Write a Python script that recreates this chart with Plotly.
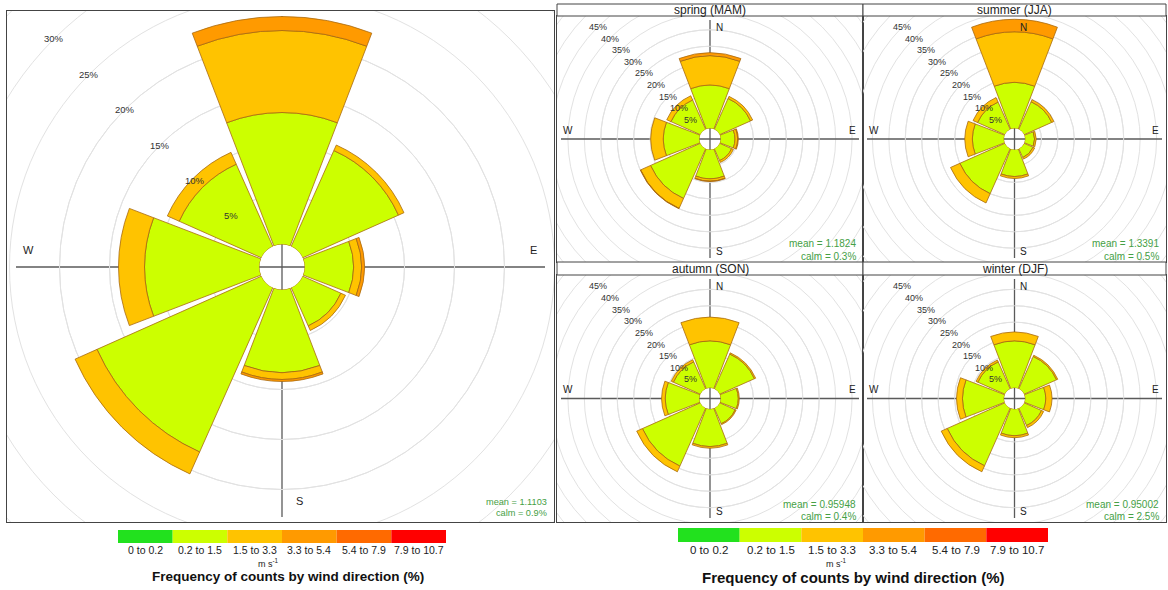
import plotly.graph_objects as go

# ---------------- data ----------------
directions = ["N", "NE", "E", "SE", "S", "SW", "W", "NW"]
direction_deg = [0, 45, 90, 135, 180, 225, 270, 315]
speed_bins = ["0 to 0.2", "0.2 to 1.5", "1.5 to 3.3", "3.3 to 5.4", "5.4 to 7.9", "7.9 to 10.7"]
bin_colors = ["#22E11E", "#CCFF00", "#FFC300", "#FF9A00", "#FF6A00", "#FF0000"]

panel_titles = ["", "spring (MAM)", "summer (JJA)", "autumn (SON)", "winter (DJF)"]
panel_means = ["1.1103", "1.1824", "1.3391", "0.95948", "0.95002"]
panel_calms = ["0.9%", "0.3%", "0.5%", "0.4%", "2.5%"]

# frequency (%) by direction (N, NE, E, SE, S, SW, W, NW) for each speed bin
all_0_02 = [0, 0, 0, 0, 0, 0, 0, 0]
all_02_15 = [13.2, 10.5, 4.9, 4.2, 8.3, 18.0, 11.5, 9.0]
all_15_33 = [8.2, 0.6, 0.8, 0.5, 0.7, 2.4, 2.6, 1.3]
all_33_54 = [1.4, 0, 0.3, 0, 0.2, 0, 0, 0]
all_54_79 = [0, 0, 0, 0, 0, 0, 0, 0]
all_79_107 = [0, 0, 0, 0, 0, 0, 0, 0]

spring_0_02 = [0, 0, 0, 0, 0, 0, 0, 0]
spring_02_15 = [13.2, 10.3, 4.4, 4.0, 8.9, 16.6, 11.0, 9.8]
spring_15_33 = [8.9, 0.7, 0.8, 0.6, 0.7, 3.3, 3.8, 1.4]
spring_33_54 = [0.9, 0, 0.2, 0, 0.1, 0.1, 0, 0]
spring_54_79 = [0, 0, 0, 0, 0, 0, 0, 0]
spring_79_107 = [0, 0, 0, 0, 0, 0, 0, 0]

summer_0_02 = [0, 0, 0, 0, 0, 0, 0, 0]
summer_02_15 = [14.0, 9.2, 2.9, 3.0, 8.2, 15.0, 9.6, 9.1]
summer_15_33 = [15.4, 0.7, 0.5, 0.5, 0.6, 3.1, 2.3, 1.5]
summer_33_54 = [3.8, 0, 0, 0, 0, 0, 0, 0]
summer_54_79 = [0, 0, 0, 0, 0, 0, 0, 0]
summer_79_107 = [0, 0, 0, 0, 0, 0, 0, 0]

autumn_0_02 = [0, 0, 0, 0, 0, 0, 0, 0]
autumn_02_15 = [14.3, 11.6, 5.4, 5.2, 11.4, 19.3, 10.4, 9.0]
autumn_15_33 = [7.2, 0.4, 0.3, 0.3, 0.5, 1.9, 1.1, 0.7]
autumn_33_54 = [0, 0, 0, 0, 0, 0, 0, 0]
autumn_54_79 = [0, 0, 0, 0, 0, 0, 0, 0]
autumn_79_107 = [0, 0, 0, 0, 0, 0, 0, 0]

winter_0_02 = [0, 0, 0, 0, 0, 0, 0, 0]
winter_02_15 = [14.3, 10.8, 6.3, 5.8, 8.1, 19.2, 12.6, 9.0]
winter_15_33 = [2.7, 0.4, 1.9, 0.7, 0.6, 2.0, 1.8, 0.6]
winter_33_54 = [0, 0, 0, 0, 0, 0, 0, 0]
winter_54_79 = [0, 0, 0, 0, 0, 0, 0, 0]
winter_79_107 = [0, 0, 0, 0, 0, 0, 0, 0]

panel_series = [
    [all_0_02, all_02_15, all_15_33, all_33_54, all_54_79, all_79_107],
    [spring_0_02, spring_02_15, spring_15_33, spring_33_54, spring_54_79, spring_79_107],
    [summer_0_02, summer_02_15, summer_15_33, summer_33_54, summer_54_79, summer_79_107],
    [autumn_0_02, autumn_02_15, autumn_15_33, autumn_33_54, autumn_54_79, autumn_79_107],
    [winter_0_02, winter_02_15, winter_15_33, winter_33_54, winter_54_79, winter_79_107],
]

# ---------------- layout (pixels) ----------------
FIG_W, FIG_H = 1168, 590
FONT = "Liberation Sans"
FRAME_COLOR = "#444444"
RING_COLOR = "#E2E2E2"
AXIS_COLOR = "#5A5A5A"
STATS_COLOR = "#45A045"
BAR_LINE = "#A86A10"
BAR_WIDTH_DEG = 42


def fx(px):
    return px / FIG_W


def fy(py):
    return 1 - py / FIG_H


def ann(**kw):
    base = dict(showarrow=False, xanchor="center", yanchor="middle")
    base.update(kw)
    return base


big = dict(frame=(7, 11, 554, 522), center=(282, 267), hole=22.5, k=10.0, rmax=23.2,
           ring_max=40, label_max=30, strip=None, ring_font=9.5, dir_font=11,
           dir_inset=21, dir_side=17, line_inset=(9, 5), stats_font=9.2,
           stats_dy=(20, 9), show_n=False)
small_common = dict(hole=10.5, k=3.29, rmax=33.6, ring_max=60, label_max=45,
                    ring_font=9, dir_font=10, dir_inset=11, dir_side=9,
                    line_inset=(4, 4), stats_font=10, stats_dy=(18, 6), show_n=True)
panels = [
    big,
    dict(small_common, frame=(557, 16, 863, 262), center=(710, 139), strip=(4, 16)),
    dict(small_common, frame=(863, 16, 1166, 262), center=(1014.5, 139), strip=(4, 16)),
    dict(small_common, frame=(557, 275, 863, 522), center=(710, 398.5), strip=(262, 275)),
    dict(small_common, frame=(863, 275, 1166, 522), center=(1014.5, 398.5), strip=(262, 275)),
]

fig = go.Figure()
shapes = []
annotations = []
layout_extra = {}

for i, p in enumerate(panels):
    pid = i + 1
    suffix = "" if pid == 1 else str(pid)
    polar_id = "polar" + suffix
    xa, ya = "x" + suffix, "y" + suffix
    x0, y0, x1, y1 = p["frame"]
    cx, cy = p["center"]
    R = p["hole"] + p["k"] * p["rmax"]

    # stacked wind-rose bars
    for b, vals in enumerate(panel_series[i]):
        fig.add_trace(go.Barpolar(
            r=vals, theta=direction_deg, width=[BAR_WIDTH_DEG] * len(vals),
            marker=dict(color=bin_colors[b], line=dict(color=BAR_LINE, width=0.8)),
            name=speed_bins[b], hovertext=directions, subplot=polar_id, showlegend=False,
        ))
    # anchor trace for the cartesian frame of this panel
    fig.add_trace(go.Scatter(x=[], y=[], xaxis=xa, yaxis=ya, showlegend=False, hoverinfo="skip"))

    ring_vals = list(range(5, p["ring_max"] + 1, 5))
    layout_extra[polar_id] = dict(
        domain=dict(x=[fx(cx - R), fx(cx + R)], y=[fy(cy + R), fy(cy - R)]),
        hole=p["hole"] / R,
        bgcolor="rgba(0,0,0,0)",
        radialaxis=dict(range=[0, p["rmax"]], showline=False, showticklabels=False, ticks="",
                        showgrid=True, gridcolor=RING_COLOR, gridwidth=1,
                        tickmode="array", tickvals=[v for v in ring_vals if v < p["rmax"]]),
        angularaxis=dict(rotation=90, direction="clockwise", showline=False,
                         showticklabels=False, ticks="", showgrid=False),
    )
    axis_common = dict(showgrid=False, zeroline=False, showticklabels=False, ticks="",
                       showline=True, mirror=True, linecolor=FRAME_COLOR, linewidth=1,
                       fixedrange=True)
    layout_extra["xaxis" + suffix] = dict(axis_common, domain=[fx(x0), fx(x1)],
                                          range=[x0 - cx, x1 - cx], anchor=ya)
    layout_extra["yaxis" + suffix] = dict(axis_common, domain=[fy(y1), fy(y0)],
                                          range=[cy - y1, cy - y0], anchor=xa)

    # rings continuing beyond the polar area (clipped to frame)
    for v in ring_vals:
        r = p["hole"] + p["k"] * v
        shapes.append(dict(type="circle", xref=xa, yref=ya, x0=-r, x1=r, y0=-r, y1=r,
                           line=dict(color=RING_COLOR, width=1), layer="below"))
    # N-S / E-W lines
    lix, liy = p["line_inset"]
    shapes.append(dict(type="line", xref=xa, yref=ya, x0=x0 + lix - cx, x1=x1 - lix - cx, y0=0, y1=0,
                       line=dict(color=AXIS_COLOR, width=1.3), layer="below"))
    shapes.append(dict(type="line", xref=xa, yref=ya, x0=0, x1=0, y0=cy - (y1 - liy), y1=cy - (y0 + liy),
                       line=dict(color=AXIS_COLOR, width=1.3), layer="below"))

    # ring labels at NW
    for v in range(5, p["label_max"] + 1, 5):
        r = p["hole"] + p["k"] * v
        annotations.append(ann(xref=xa, yref=ya, x=-0.7071 * r, y=0.7071 * r, text=f"{v}%",
                               font=dict(size=p["ring_font"], color="#333333")))
    # direction labels
    di, ds, dfont = p["dir_inset"], p["dir_side"], p["dir_font"]
    dir_pos = [("W", x0 + di - cx, ds), ("E", x1 - di - cx, ds), ("S", ds, cy - (y1 - di))]
    if p["show_n"]:
        dir_pos.append(("N", ds, cy - (y0 + di)))
    for txt, ax_, ay_ in dir_pos:
        annotations.append(ann(xref=xa, yref=ya, x=ax_, y=ay_, text=txt,
                               font=dict(size=dfont, color="#222222")))
    # mean / calm
    annotations.append(ann(xref="paper", yref="paper", x=fx(x1 - 5), y=fy(y1 - p["stats_dy"][0]),
                           text=f"mean = {panel_means[i]}", xanchor="right",
                           font=dict(size=p["stats_font"], color=STATS_COLOR)))
    annotations.append(ann(xref="paper", yref="paper", x=fx(x1 - 5), y=fy(y1 - p["stats_dy"][1]),
                           text=f"calm = {panel_calms[i]}", xanchor="right",
                           font=dict(size=p["stats_font"], color=STATS_COLOR)))
    # strip title
    if p["strip"]:
        s0, s1 = p["strip"]
        shapes.append(dict(type="rect", xref="paper", yref="paper", x0=fx(x0), x1=fx(x1),
                           y0=fy(s1), y1=fy(s0), fillcolor="white",
                           line=dict(color=FRAME_COLOR, width=1), layer="above"))
        annotations.append(ann(xref="paper", yref="paper", x=fx((x0 + x1) / 2), y=fy((s0 + s1) / 2 + 0.5),
                               text=panel_titles[i], font=dict(size=12, color="#222222")))

# ---------------- colour keys ----------------
keys = [
    dict(x0=118, x1=446, y0=530, y1=543, label_font=10.5, label_y=550, unit_x=268, unit_y=563,
         title_x=288, title_y=576, title_font=13.5),
    dict(x0=678, x1=1048, y0=528, y1=542, label_font=11.5, label_y=550, unit_x=836, unit_y=563,
         title_x=853, title_y=577, title_font=15),
]
for kd in keys:
    n = len(speed_bins)
    w = (kd["x1"] - kd["x0"]) / n
    for j, lab in enumerate(speed_bins):
        sx0 = kd["x0"] + j * w
        shapes.append(dict(type="rect", xref="paper", yref="paper", x0=fx(sx0), x1=fx(sx0 + w),
                           y0=fy(kd["y1"]), y1=fy(kd["y0"]), fillcolor=bin_colors[j],
                           line=dict(width=0), layer="above"))
        annotations.append(ann(xref="paper", yref="paper", x=fx(sx0 + w / 2), y=fy(kd["label_y"]),
                               text=lab, font=dict(size=kd["label_font"], color="#222222")))
    annotations.append(ann(xref="paper", yref="paper", x=fx(kd["unit_x"]), y=fy(kd["unit_y"]),
                           text="m s<sup>-1</sup>", font=dict(size=9, color="#222222")))
    annotations.append(ann(xref="paper", yref="paper", x=fx(kd["title_x"]), y=fy(kd["title_y"]),
                           text="<b>Frequency of counts by wind direction (%)</b>",
                           font=dict(size=kd["title_font"], color="#111111")))

fig.update_layout(
    width=FIG_W, height=FIG_H,
    margin=dict(l=0, r=0, t=0, b=0, pad=0),
    paper_bgcolor="white", plot_bgcolor="white",
    showlegend=False,
    font=dict(family=FONT, color="#222222"),
    shapes=shapes, annotations=annotations,
    **layout_extra,
)

fig.write_html("out.html", config={"displayModeBar": False},
               post_script="document.body.style.margin='0';")
